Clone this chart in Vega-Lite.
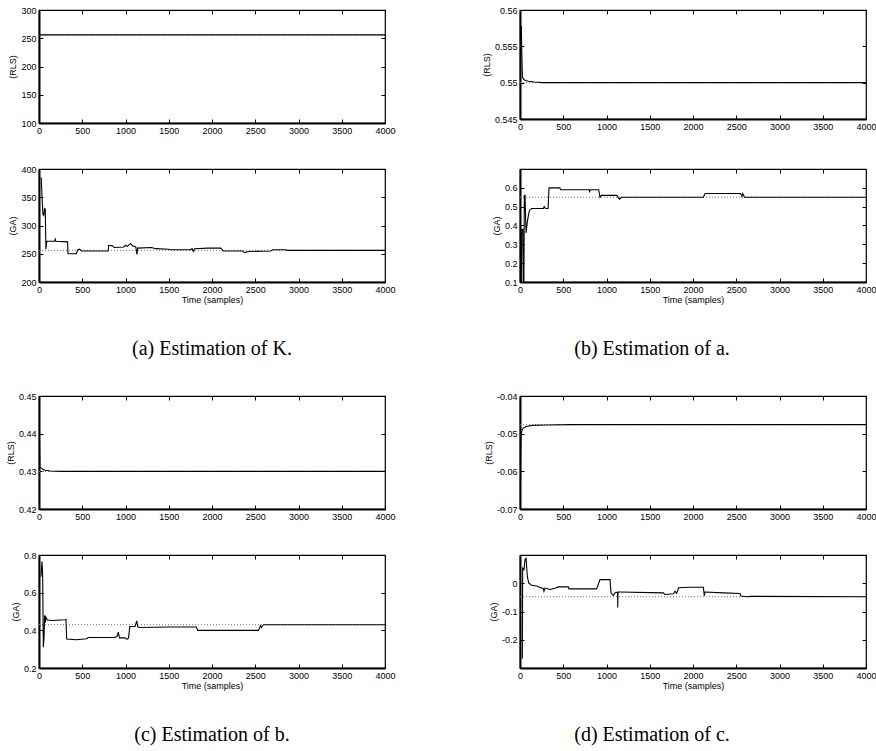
{
  "$schema": "https://vega.github.io/schema/vega-lite/v6.json",
  "padding": {"left": 5, "top": 5, "right": 5, "bottom": 5},
  "background": "white",
  "config": {
    "view": {"stroke": "black", "strokeWidth": 1.2},
    "font": "Liberation Sans",
    "axis": {"labelFont": "Liberation Sans", "labelFontSize": 9, "labelColor": "black", "titleFont": "Liberation Sans", "titleFontSize": 9, "titleFontWeight": "normal", "titleColor": "black", "grid": false, "domainColor": "black", "domainWidth": 2, "tickColor": "black", "tickWidth": 1, "tickSize": -4, "labelPadding": 7, "labelFlush": false, "labelOverlap": false, "labelBound": false, "titlePadding": 3},
    "title": {"font": "Liberation Serif", "fontSize": 20, "fontWeight": "normal", "color": "black"}
  },
  "bounds": "flush",
  "align": "each",
  "columns": 2,
  "spacing": {"row": 46, "column": 135},
  "concat": [
    {
      "width": 346, "height": 113,
      "layer": [
        {"data": {"values": [{"v": 256}]}, "mark": {"type": "rule", "strokeDash": [1, 2], "color": "#777777", "strokeWidth": 1}, "encoding": {"y": {"field": "v", "type": "quantitative", "scale": {"domain": [100, 300], "nice": false, "zero": false}, "axis": null}}},
        {"data": {"values": [{"t": 0, "v": 256}, {"t": 1000, "v": 256}, {"t": 2000, "v": 256}, {"t": 3000, "v": 256}, {"t": 4000, "v": 256}]}, "mark": {"type": "line", "color": "black", "strokeWidth": 1.1, "clip": true}, "encoding": {
          "x": {"field": "t", "type": "quantitative", "scale": {"domain": [0, 4000], "nice": false}, "axis": {"orient": "bottom", "values": [0, 500, 1000, 1500, 2000, 2500, 3000, 3500, 4000], "labelExpr": "toString(datum.value)", "title": null}},
          "y": {"field": "v", "type": "quantitative", "scale": {"domain": [100, 300], "nice": false, "zero": false}, "axis": {"orient": "left", "values": [100, 150, 200, 250, 300], "labelExpr": "toString(datum.value)", "title": "(RLS)"}}}},
        {"data": {"values": [{"t": 0, "v": 100}, {"t": 4000, "v": 300}]}, "mark": {"type": "line", "opacity": 0}, "encoding": {
          "x": {"field": "t", "type": "quantitative", "scale": {"domain": [0, 4000], "nice": false}, "axis": {"orient": "top", "values": [0, 500, 1000, 1500, 2000, 2500, 3000, 3500, 4000], "labels": false, "domain": false, "title": null}},
          "y": {"field": "v", "type": "quantitative", "scale": {"domain": [100, 300], "nice": false, "zero": false}, "axis": {"orient": "right", "values": [100, 150, 200, 250, 300], "labels": false, "domain": false, "title": null}}}}
      ],
      "resolve": {"axis": {"x": "independent", "y": "independent"}}
    },
    {
      "width": 346, "height": 109,
      "layer": [
        {"data": {"values": [{"v": 0.55}]}, "mark": {"type": "rule", "strokeDash": [1, 2], "color": "#777777", "strokeWidth": 1}, "encoding": {"y": {"field": "v", "type": "quantitative", "scale": {"domain": [0.545, 0.56], "nice": false, "zero": false}, "axis": null}}},
        {"data": {"values": [
          {"t": 15, "v": 0.5578}, {"t": 22, "v": 0.5535}, {"t": 28, "v": 0.5508}, {"t": 40, "v": 0.5505}, {"t": 60, "v": 0.5503}, {"t": 100, "v": 0.5502}, {"t": 160, "v": 0.5501}, {"t": 260, "v": 0.55}, {"t": 1000, "v": 0.55}, {"t": 4000, "v": 0.55}
        ]}, "mark": {"type": "line", "color": "black", "strokeWidth": 1.1, "clip": true}, "encoding": {
          "x": {"field": "t", "type": "quantitative", "scale": {"domain": [0, 4000], "nice": false}, "axis": {"orient": "bottom", "values": [0, 500, 1000, 1500, 2000, 2500, 3000, 3500, 4000], "labelExpr": "toString(datum.value)", "title": null}},
          "y": {"field": "v", "type": "quantitative", "scale": {"domain": [0.545, 0.56], "nice": false, "zero": false}, "axis": {"orient": "left", "values": [0.545, 0.55, 0.555, 0.56], "labelExpr": "toString(datum.value)", "title": "(RLS)"}}}},
        {"data": {"values": [{"t": 0, "v": 0.545}, {"t": 4000, "v": 0.56}]}, "mark": {"type": "line", "opacity": 0}, "encoding": {
          "x": {"field": "t", "type": "quantitative", "scale": {"domain": [0, 4000], "nice": false}, "axis": {"orient": "top", "values": [0, 500, 1000, 1500, 2000, 2500, 3000, 3500, 4000], "labels": false, "domain": false, "title": null}},
          "y": {"field": "v", "type": "quantitative", "scale": {"domain": [0.545, 0.56], "nice": false, "zero": false}, "axis": {"orient": "right", "values": [0.545, 0.55, 0.555, 0.56], "labels": false, "domain": false, "title": null}}}}
      ],
      "resolve": {"axis": {"x": "independent", "y": "independent"}}
    },
    {
      "width": 346, "height": 113,
      "title": {"text": "(a) Estimation of K.", "orient": "bottom", "offset": 35, "anchor": "middle", "frame": "group"},
      "layer": [
        {"data": {"values": [{"v": 256}]}, "mark": {"type": "rule", "strokeDash": [1, 2], "color": "#777777", "strokeWidth": 1}, "encoding": {"y": {"field": "v", "type": "quantitative", "scale": {"domain": [200, 400], "nice": false, "zero": false}, "axis": null}}},
        {"data": {"values": [
          {"t": 25, "v": 385}, {"t": 45, "v": 320}, {"t": 55, "v": 318}, {"t": 65, "v": 330}, {"t": 72, "v": 329}, {"t": 80, "v": 258}, {"t": 90, "v": 272}, {"t": 180, "v": 272}, {"t": 188, "v": 276}, {"t": 196, "v": 272}, {"t": 330, "v": 271}, {"t": 335, "v": 250}, {"t": 430, "v": 250}, {"t": 450, "v": 257}, {"t": 470, "v": 258}, {"t": 490, "v": 255}, {"t": 600, "v": 255}, {"t": 800, "v": 255}, {"t": 805, "v": 265}, {"t": 850, "v": 264}, {"t": 870, "v": 261}, {"t": 980, "v": 262}, {"t": 1000, "v": 265}, {"t": 1020, "v": 263}, {"t": 1060, "v": 268}, {"t": 1080, "v": 264}, {"t": 1120, "v": 262}, {"t": 1132, "v": 249}, {"t": 1140, "v": 260}, {"t": 1300, "v": 261}, {"t": 1350, "v": 259}, {"t": 1500, "v": 258}, {"t": 1520, "v": 257}, {"t": 1750, "v": 257}, {"t": 1770, "v": 259}, {"t": 1785, "v": 254}, {"t": 1800, "v": 259}, {"t": 1950, "v": 260}, {"t": 2100, "v": 260}, {"t": 2130, "v": 255}, {"t": 2350, "v": 255}, {"t": 2380, "v": 252}, {"t": 2420, "v": 254}, {"t": 2680, "v": 255}, {"t": 2700, "v": 257}, {"t": 2850, "v": 257}, {"t": 2870, "v": 256}, {"t": 4000, "v": 256}
        ]}, "mark": {"type": "line", "color": "black", "strokeWidth": 1.1, "clip": true}, "encoding": {
          "x": {"field": "t", "type": "quantitative", "scale": {"domain": [0, 4000], "nice": false}, "axis": {"orient": "bottom", "values": [0, 500, 1000, 1500, 2000, 2500, 3000, 3500, 4000], "labelExpr": "toString(datum.value)", "title": "Time (samples)", "titlePadding": 1}},
          "y": {"field": "v", "type": "quantitative", "scale": {"domain": [200, 400], "nice": false, "zero": false}, "axis": {"orient": "left", "values": [200, 250, 300, 350, 400], "labelExpr": "toString(datum.value)", "title": "(GA)"}}}},
        {"data": {"values": [{"t": 0, "v": 200}, {"t": 4000, "v": 400}]}, "mark": {"type": "line", "opacity": 0}, "encoding": {
          "x": {"field": "t", "type": "quantitative", "scale": {"domain": [0, 4000], "nice": false}, "axis": {"orient": "top", "values": [0, 500, 1000, 1500, 2000, 2500, 3000, 3500, 4000], "labels": false, "domain": false, "title": null}},
          "y": {"field": "v", "type": "quantitative", "scale": {"domain": [200, 400], "nice": false, "zero": false}, "axis": {"orient": "right", "values": [200, 250, 300, 350, 400], "labels": false, "domain": false, "title": null}}}}
      ],
      "resolve": {"axis": {"x": "independent", "y": "independent"}}
    },
    {
      "width": 346, "height": 113,
      "title": {"text": "(b) Estimation of a.", "orient": "bottom", "offset": 35, "anchor": "middle", "frame": "group", "dx": -41},
      "layer": [
        {"data": {"values": [{"v": 0.55}]}, "mark": {"type": "rule", "strokeDash": [1, 2], "color": "#777777", "strokeWidth": 1}, "encoding": {"y": {"field": "v", "type": "quantitative", "scale": {"domain": [0.1, 0.7], "nice": false, "zero": false}, "axis": null}}},
        {"data": {"values": [
          {"t": 15, "v": 0.1}, {"t": 20, "v": 0.38}, {"t": 33, "v": 0.38}, {"t": 37, "v": 0.1}, {"t": 45, "v": 0.1}, {"t": 50, "v": 0.56}, {"t": 58, "v": 0.56}, {"t": 70, "v": 0.36}, {"t": 85, "v": 0.42}, {"t": 100, "v": 0.46}, {"t": 110, "v": 0.48}, {"t": 135, "v": 0.49}, {"t": 270, "v": 0.49}, {"t": 280, "v": 0.5}, {"t": 295, "v": 0.49}, {"t": 325, "v": 0.49}, {"t": 335, "v": 0.6}, {"t": 460, "v": 0.6}, {"t": 470, "v": 0.59}, {"t": 800, "v": 0.59}, {"t": 805, "v": 0.58}, {"t": 815, "v": 0.59}, {"t": 910, "v": 0.59}, {"t": 925, "v": 0.55}, {"t": 940, "v": 0.56}, {"t": 1120, "v": 0.56}, {"t": 1140, "v": 0.545}, {"t": 1150, "v": 0.54}, {"t": 1175, "v": 0.55}, {"t": 2120, "v": 0.55}, {"t": 2140, "v": 0.57}, {"t": 2550, "v": 0.57}, {"t": 2565, "v": 0.555}, {"t": 2575, "v": 0.57}, {"t": 2595, "v": 0.55}, {"t": 4000, "v": 0.55}
        ]}, "mark": {"type": "line", "color": "black", "strokeWidth": 1.1, "clip": true}, "encoding": {
          "x": {"field": "t", "type": "quantitative", "scale": {"domain": [0, 4000], "nice": false}, "axis": {"orient": "bottom", "values": [0, 500, 1000, 1500, 2000, 2500, 3000, 3500, 4000], "labelExpr": "toString(datum.value)", "title": "Time (samples)", "titlePadding": 1}},
          "y": {"field": "v", "type": "quantitative", "scale": {"domain": [0.1, 0.7], "nice": false, "zero": false}, "axis": {"orient": "left", "values": [0.1, 0.2, 0.3, 0.4, 0.5, 0.6], "labelExpr": "toString(datum.value)", "title": "(GA)"}}}},
        {"data": {"values": [{"t": 0, "v": 0.1}, {"t": 4000, "v": 0.7}]}, "mark": {"type": "line", "opacity": 0}, "encoding": {
          "x": {"field": "t", "type": "quantitative", "scale": {"domain": [0, 4000], "nice": false}, "axis": {"orient": "top", "values": [0, 500, 1000, 1500, 2000, 2500, 3000, 3500, 4000], "labels": false, "domain": false, "title": null}},
          "y": {"field": "v", "type": "quantitative", "scale": {"domain": [0.1, 0.7], "nice": false, "zero": false}, "axis": {"orient": "right", "values": [0.1, 0.2, 0.3, 0.4, 0.5, 0.6], "labels": false, "domain": false, "title": null}}}}
      ],
      "resolve": {"axis": {"x": "independent", "y": "independent"}}
    },
    {
      "width": 346, "height": 22, "view": {"stroke": null},
      "data": {"values": [{}]}, "mark": {"type": "point", "opacity": 0}
    },
    {
      "width": 346, "height": 22, "view": {"stroke": null},
      "data": {"values": [{}]}, "mark": {"type": "point", "opacity": 0}
    },
    {
      "width": 346, "height": 113,
      "layer": [
        {"data": {"values": [{"v": 0.43}]}, "mark": {"type": "rule", "strokeDash": [1, 2], "color": "#777777", "strokeWidth": 1}, "encoding": {"y": {"field": "v", "type": "quantitative", "scale": {"domain": [0.42, 0.45], "nice": false, "zero": false}, "axis": null}}},
        {"data": {"values": [
          {"t": 3, "v": 0.4427}, {"t": 10, "v": 0.4312}, {"t": 40, "v": 0.4306}, {"t": 70, "v": 0.4303}, {"t": 130, "v": 0.4301}, {"t": 250, "v": 0.43}, {"t": 1000, "v": 0.43}, {"t": 4000, "v": 0.43}
        ]}, "mark": {"type": "line", "color": "black", "strokeWidth": 1.1, "clip": true}, "encoding": {
          "x": {"field": "t", "type": "quantitative", "scale": {"domain": [0, 4000], "nice": false}, "axis": {"orient": "bottom", "values": [0, 500, 1000, 1500, 2000, 2500, 3000, 3500, 4000], "labelExpr": "toString(datum.value)", "title": null}},
          "y": {"field": "v", "type": "quantitative", "scale": {"domain": [0.42, 0.45], "nice": false, "zero": false}, "axis": {"orient": "left", "values": [0.42, 0.43, 0.44, 0.45], "labelExpr": "toString(datum.value)", "title": "(RLS)"}}}},
        {"data": {"values": [{"t": 0, "v": 0.42}, {"t": 4000, "v": 0.45}]}, "mark": {"type": "line", "opacity": 0}, "encoding": {
          "x": {"field": "t", "type": "quantitative", "scale": {"domain": [0, 4000], "nice": false}, "axis": {"orient": "top", "values": [0, 500, 1000, 1500, 2000, 2500, 3000, 3500, 4000], "labels": false, "domain": false, "title": null}},
          "y": {"field": "v", "type": "quantitative", "scale": {"domain": [0.42, 0.45], "nice": false, "zero": false}, "axis": {"orient": "right", "values": [0.42, 0.43, 0.44, 0.45], "labels": false, "domain": false, "title": null}}}}
      ],
      "resolve": {"axis": {"x": "independent", "y": "independent"}}
    },
    {
      "width": 346, "height": 113,
      "layer": [
        {"data": {"values": [{"v": -0.0476}]}, "mark": {"type": "rule", "strokeDash": [1, 2], "color": "#777777", "strokeWidth": 1}, "encoding": {"y": {"field": "v", "type": "quantitative", "scale": {"domain": [-0.07, -0.04], "nice": false, "zero": false}, "axis": null}}},
        {"data": {"values": [
          {"t": 3, "v": -0.0698}, {"t": 8, "v": -0.056}, {"t": 12, "v": -0.051}, {"t": 20, "v": -0.0493}, {"t": 35, "v": -0.0486}, {"t": 70, "v": -0.0481}, {"t": 140, "v": -0.0478}, {"t": 300, "v": -0.0477}, {"t": 600, "v": -0.0476}, {"t": 4000, "v": -0.0476}
        ]}, "mark": {"type": "line", "color": "black", "strokeWidth": 1.1, "clip": true}, "encoding": {
          "x": {"field": "t", "type": "quantitative", "scale": {"domain": [0, 4000], "nice": false}, "axis": {"orient": "bottom", "values": [0, 500, 1000, 1500, 2000, 2500, 3000, 3500, 4000], "labelExpr": "toString(datum.value)", "title": null}},
          "y": {"field": "v", "type": "quantitative", "scale": {"domain": [-0.07, -0.04], "nice": false, "zero": false}, "axis": {"orient": "left", "values": [-0.07, -0.06, -0.05, -0.04], "labelExpr": "toString(datum.value)", "title": "(RLS)"}}}},
        {"data": {"values": [{"t": 0, "v": -0.07}, {"t": 4000, "v": -0.04}]}, "mark": {"type": "line", "opacity": 0}, "encoding": {
          "x": {"field": "t", "type": "quantitative", "scale": {"domain": [0, 4000], "nice": false}, "axis": {"orient": "top", "values": [0, 500, 1000, 1500, 2000, 2500, 3000, 3500, 4000], "labels": false, "domain": false, "title": null}},
          "y": {"field": "v", "type": "quantitative", "scale": {"domain": [-0.07, -0.04], "nice": false, "zero": false}, "axis": {"orient": "right", "values": [-0.07, -0.06, -0.05, -0.04], "labels": false, "domain": false, "title": null}}}}
      ],
      "resolve": {"axis": {"x": "independent", "y": "independent"}}
    },
    {
      "width": 346, "height": 113,
      "title": {"text": "(c) Estimation of b.", "orient": "bottom", "offset": 35, "anchor": "middle", "frame": "group"},
      "layer": [
        {"data": {"values": [{"v": 0.43}]}, "mark": {"type": "rule", "strokeDash": [1, 2], "color": "#777777", "strokeWidth": 1}, "encoding": {"y": {"field": "v", "type": "quantitative", "scale": {"domain": [0.2, 0.8], "nice": false, "zero": false}, "axis": null}}},
        {"data": {"values": [
          {"t": 23, "v": 0.685}, {"t": 35, "v": 0.765}, {"t": 42, "v": 0.7}, {"t": 50, "v": 0.31}, {"t": 58, "v": 0.36}, {"t": 65, "v": 0.48}, {"t": 72, "v": 0.44}, {"t": 80, "v": 0.47}, {"t": 96, "v": 0.455}, {"t": 150, "v": 0.452}, {"t": 300, "v": 0.456}, {"t": 312, "v": 0.458}, {"t": 320, "v": 0.354}, {"t": 435, "v": 0.35}, {"t": 550, "v": 0.355}, {"t": 570, "v": 0.362}, {"t": 820, "v": 0.362}, {"t": 880, "v": 0.362}, {"t": 905, "v": 0.37}, {"t": 917, "v": 0.39}, {"t": 930, "v": 0.36}, {"t": 995, "v": 0.36}, {"t": 1015, "v": 0.352}, {"t": 1035, "v": 0.36}, {"t": 1050, "v": 0.42}, {"t": 1110, "v": 0.42}, {"t": 1130, "v": 0.45}, {"t": 1140, "v": 0.42}, {"t": 1160, "v": 0.415}, {"t": 1500, "v": 0.418}, {"t": 1820, "v": 0.418}, {"t": 1835, "v": 0.4}, {"t": 2535, "v": 0.4}, {"t": 2548, "v": 0.41}, {"t": 2560, "v": 0.425}, {"t": 2570, "v": 0.415}, {"t": 2595, "v": 0.43}, {"t": 4000, "v": 0.43}
        ]}, "mark": {"type": "line", "color": "black", "strokeWidth": 1.1, "clip": true}, "encoding": {
          "x": {"field": "t", "type": "quantitative", "scale": {"domain": [0, 4000], "nice": false}, "axis": {"orient": "bottom", "values": [0, 500, 1000, 1500, 2000, 2500, 3000, 3500, 4000], "labelExpr": "toString(datum.value)", "title": "Time (samples)", "titlePadding": 1}},
          "y": {"field": "v", "type": "quantitative", "scale": {"domain": [0.2, 0.8], "nice": false, "zero": false}, "axis": {"orient": "left", "values": [0.2, 0.4, 0.6, 0.8], "labelExpr": "toString(datum.value)", "title": "(GA)"}}}},
        {"data": {"values": [{"t": 0, "v": 0.2}, {"t": 4000, "v": 0.8}]}, "mark": {"type": "line", "opacity": 0}, "encoding": {
          "x": {"field": "t", "type": "quantitative", "scale": {"domain": [0, 4000], "nice": false}, "axis": {"orient": "top", "values": [0, 500, 1000, 1500, 2000, 2500, 3000, 3500, 4000], "labels": false, "domain": false, "title": null}},
          "y": {"field": "v", "type": "quantitative", "scale": {"domain": [0.2, 0.8], "nice": false, "zero": false}, "axis": {"orient": "right", "values": [0.2, 0.4, 0.6, 0.8], "labels": false, "domain": false, "title": null}}}}
      ],
      "resolve": {"axis": {"x": "independent", "y": "independent"}}
    },
    {
      "width": 346, "height": 113,
      "title": {"text": "(d) Estimation of c.", "orient": "bottom", "offset": 35, "anchor": "middle", "frame": "group", "dx": -41},
      "layer": [
        {"data": {"values": [{"v": -0.0476}]}, "mark": {"type": "rule", "strokeDash": [1, 2], "color": "#777777", "strokeWidth": 1}, "encoding": {"y": {"field": "v", "type": "quantitative", "scale": {"domain": [-0.3, 0.1], "nice": false, "zero": false}, "axis": null}}},
        {"data": {"values": [
          {"t": 27, "v": -0.266}, {"t": 31, "v": 0.053}, {"t": 46, "v": 0.048}, {"t": 58, "v": 0.083}, {"t": 70, "v": 0.088}, {"t": 85, "v": 0.024}, {"t": 100, "v": 0.001}, {"t": 135, "v": -0.007}, {"t": 193, "v": -0.01}, {"t": 270, "v": -0.019}, {"t": 277, "v": -0.028}, {"t": 289, "v": -0.017}, {"t": 347, "v": -0.022}, {"t": 405, "v": -0.018}, {"t": 443, "v": -0.013}, {"t": 559, "v": -0.013}, {"t": 566, "v": -0.02}, {"t": 886, "v": -0.02}, {"t": 925, "v": 0.013}, {"t": 1040, "v": 0.013}, {"t": 1052, "v": -0.034}, {"t": 1079, "v": -0.043}, {"t": 1106, "v": -0.032}, {"t": 1128, "v": -0.033}, {"t": 1130, "v": -0.086}, {"t": 1133, "v": -0.031}, {"t": 1156, "v": -0.031}, {"t": 1657, "v": -0.034}, {"t": 1676, "v": -0.04}, {"t": 1773, "v": -0.037}, {"t": 1792, "v": -0.028}, {"t": 1810, "v": -0.036}, {"t": 1834, "v": -0.016}, {"t": 1965, "v": -0.014}, {"t": 2120, "v": -0.014}, {"t": 2131, "v": -0.045}, {"t": 2139, "v": -0.031}, {"t": 2351, "v": -0.034}, {"t": 2543, "v": -0.036}, {"t": 2555, "v": -0.045}, {"t": 2620, "v": -0.048}, {"t": 2660, "v": -0.0465}, {"t": 4000, "v": -0.0476}
        ]}, "mark": {"type": "line", "color": "black", "strokeWidth": 1.1, "clip": true}, "encoding": {
          "x": {"field": "t", "type": "quantitative", "scale": {"domain": [0, 4000], "nice": false}, "axis": {"orient": "bottom", "values": [0, 500, 1000, 1500, 2000, 2500, 3000, 3500, 4000], "labelExpr": "toString(datum.value)", "title": "Time (samples)", "titlePadding": 1}},
          "y": {"field": "v", "type": "quantitative", "scale": {"domain": [-0.3, 0.1], "nice": false, "zero": false}, "axis": {"orient": "left", "values": [-0.2, -0.1, 0], "labelExpr": "toString(datum.value)", "title": "(GA)"}}}},
        {"data": {"values": [{"t": 0, "v": -0.3}, {"t": 4000, "v": 0.1}]}, "mark": {"type": "line", "opacity": 0}, "encoding": {
          "x": {"field": "t", "type": "quantitative", "scale": {"domain": [0, 4000], "nice": false}, "axis": {"orient": "top", "values": [0, 500, 1000, 1500, 2000, 2500, 3000, 3500, 4000], "labels": false, "domain": false, "title": null}},
          "y": {"field": "v", "type": "quantitative", "scale": {"domain": [-0.3, 0.1], "nice": false, "zero": false}, "axis": {"orient": "right", "values": [-0.2, -0.1, 0], "labels": false, "domain": false, "title": null}}}}
      ],
      "resolve": {"axis": {"x": "independent", "y": "independent"}}
    }
  ]
}
